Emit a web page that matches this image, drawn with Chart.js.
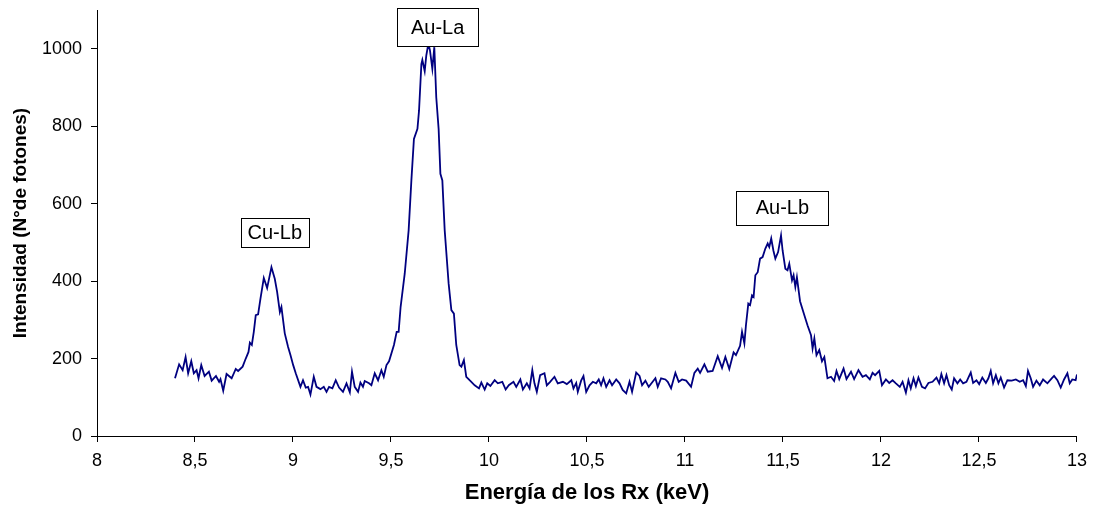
<!DOCTYPE html>
<html>
<head>
<meta charset="utf-8">
<script src="https://cdn.jsdelivr.net/npm/chart.js@4.4.1/dist/chart.umd.min.js"></script>
<style>
html,body{margin:0;padding:0;background:#fff;}
#wrap{width:1095px;height:510px;}
</style>
</head>
<body>
<div id="wrap"><canvas id="c" width="1095" height="510"></canvas></div>
<script>
// Energy (keV) of each read point
const energy = [
8.398,8.419,8.437,8.452,8.465,8.481,8.494,8.508,8.518,8.532,8.549,8.571,8.585,8.607,8.623,8.630,8.644,8.661,8.687,8.708,
8.720,8.743,8.759,8.773,8.780,8.790,8.800,8.810,8.822,8.834,8.851,8.868,8.890,8.907,8.919,8.933,8.941,8.958,8.975,8.987,
9.001,9.014,9.038,9.051,9.065,9.077,9.089,9.106,9.120,9.140,9.157,9.171,9.184,9.201,9.218,9.235,9.255,9.273,9.290,9.301,
9.315,9.332,9.344,9.357,9.366,9.388,9.400,9.417,9.434,9.451,9.463,9.477,9.490,
9.515,9.529,9.539,9.549,9.570,9.590,9.604,9.617,9.635,9.643,9.655,9.660,9.672,9.680,9.691,9.699,9.711,9.721,9.731,9.743,
9.752,9.762,9.774,9.794,9.808,9.821,9.833,9.850,9.859,9.872,9.884,9.901,
9.927,9.949,9.961,9.978,9.991,10.007,10.029,10.045,10.068,10.085,10.101,10.125,10.139,10.160,10.173,10.193,10.207,10.221,10.232,10.244,
10.261,10.283,10.295,10.312,10.334,10.351,10.377,10.397,10.420,10.431,10.445,10.453,10.470,10.482,10.496,10.513,10.530,10.547,10.560,10.572,
10.584,10.598,10.615,10.628,10.649,10.666,10.682,10.700,10.717,10.730,10.751,10.768,10.781,10.798,10.815,10.835,10.849,10.861,10.878,10.900,
10.912,10.929,10.951,10.968,10.985,11.006,11.031,11.048,11.065,11.077,11.099,11.116,11.141,11.167,
11.189,11.206,11.226,11.248,11.260,11.281,11.291,11.303,11.311,11.323,11.332,11.342,11.350,11.359,11.371,11.383,11.396,11.410,11.422,11.430,
11.440,11.451,11.461,11.475,11.490,11.498,11.512,11.523,11.532,11.546,11.554,11.563,11.571,11.587,11.609,11.625,11.643,11.651,11.660,11.671,
11.685,11.699,11.711,11.727,11.745,11.761,11.773,11.787,11.809,11.824,11.847,11.863,11.885,11.906,11.923,11.943,11.957,11.970,11.991,
12.005,12.025,12.042,12.059,12.076,12.096,12.110,12.127,12.140,12.152,12.166,12.178,12.191,12.209,12.225,12.242,12.263,12.283,12.297,12.308,
12.322,12.334,12.348,12.361,12.373,12.390,12.404,12.419,12.436,12.450,12.458,12.470,12.487,12.501,12.517,12.535,12.548,12.560,12.572,12.586,
12.599,12.611,12.628,12.645,12.667,12.688,12.708,12.725,12.739,12.750,12.764,12.776,12.793,12.810,12.827,12.849,12.871,12.883,12.900,12.917,
12.934,12.951,12.963,12.976,12.993,13.000
];
// Intensity (photon counts) at each energy
const counts = [
149,185,170,204,162,193,162,170,149,183,155,166,143,155,140,147,117,160,149,173,
168,179,200,217,241,235,269,312,314,355,408,382,436,406,372,320,333,265,230,209,
183,162,127,144,125,127,107,153,127,121,127,114,127,123,144,125,114,136,113,166,
127,114,138,127,142,136,131,162,144,170,153,183,193,
235,269,269,333,419,531,660,767,793,840,960,971,942,982,1014,995,948,1004,874,793,
677,660,531,394,325,316,235,183,179,196,153,144,
131,123,138,120,136,129,144,136,140,120,131,140,127,146,120,136,123,170,136,114,
157,162,131,140,153,136,140,134,144,123,137,114,143,155,114,131,140,136,146,131,
149,127,144,131,146,136,119,110,140,114,164,155,131,143,127,140,149,127,149,146,
140,123,163,140,146,143,127,163,174,163,185,166,168,206,
176,204,173,216,209,233,269,239,286,342,338,363,359,415,423,458,462,484,497,488,
510,479,458,475,518,479,432,428,445,402,415,385,410,348,312,286,260,226,252,209,
222,193,204,149,153,142,168,147,174,147,166,147,170,153,157,146,163,157,168,
131,146,137,144,136,127,140,112,144,123,149,129,151,127,123,137,140,151,136,160,
136,157,131,120,149,136,146,136,140,155,164,137,144,134,151,137,149,168,136,157,
136,151,125,144,143,146,140,144,129,168,149,127,143,131,146,136,149,155,144,125,
146,162,136,146,144,159
];
// Peak labels
const peakLabels = ['Cu-Lb', 'Au-La', 'Au-Lb'];
const peakLabelE = [8.907, 9.738, 11.497];
const peakLabelY = [526, 1055, 589];
const peakBoxW = [68, 81, 92];
const peakBoxH = [29, 38, 34];

const xTitle = 'Energía de los Rx (keV)';
const yTitle = 'Intensidad (N°de fotones)';

const FONT = '"Liberation Sans", Arial, Helvetica, sans-serif';

const points = energy.map((e, i) => ({x: e, y: counts[i]}));

const labelPlugin = {
  id: 'peakLabels',
  afterDraw(chart) {
    const ctx = chart.ctx;
    const xs = chart.scales.x, ys = chart.scales.y;
    ctx.save();
    peakLabels.forEach((t, i) => {
      const cx = xs.getPixelForValue(peakLabelE[i]);
      const cy = ys.getPixelForValue(peakLabelY[i]);
      const w = peakBoxW[i], h = peakBoxH[i];
      const x0 = Math.round(cx - w / 2) + 0.5, y0 = Math.round(cy - h / 2) + 0.5;
      ctx.fillStyle = '#ffffff';
      ctx.fillRect(x0, y0, w, h);
      ctx.strokeStyle = '#000000';
      ctx.lineWidth = 1;
      ctx.strokeRect(x0, y0, w, h);
      ctx.fillStyle = '#000000';
      ctx.font = '20px ' + FONT;
      ctx.textAlign = 'center';
      ctx.textBaseline = 'middle';
      ctx.fillText(t, cx, cy + 1);
    });
    ctx.restore();
  }
};

new Chart(document.getElementById('c'), {
  type: 'line',
  data: {
    datasets: [{
      data: points,
      borderColor: '#000080',
      borderWidth: 1.8,
      pointRadius: 0,
      tension: 0,
      fill: false
    }]
  },
  options: {
    responsive: false,
    devicePixelRatio: 1,
    animation: false,
    layout: {padding: {top: 0, right: 17, left: 0, bottom: 0}},
    plugins: {legend: {display: false}, tooltip: {enabled: false}},
    scales: {
      x: {
        type: 'linear',
        min: 8, max: 13,
        grid: {drawOnChartArea: false, drawTicks: true, tickLength: 6, color: '#000'},
        border: {display: true, color: '#000', width: 1},
        ticks: {
          stepSize: 0.5,
          padding: 8,
          color: '#000',
          font: {family: FONT, size: 18},
          maxRotation: 0,
          callback: v => String(v).replace('.', ',')
        },
        title: {
          display: true, text: xTitle, color: '#000',
          font: {family: FONT, size: 22, weight: 'bold'},
          padding: {top: 0, bottom: 4}
        },
        afterFit: s => { s.height = 74; }
      },
      y: {
        min: 0, max: 1100,
        grid: {drawOnChartArea: false, drawTicks: true, tickLength: 6, color: '#000'},
        border: {display: true, color: '#000', width: 1},
        ticks: {
          stepSize: 200,
          includeBounds: false,
          padding: 9,
          color: '#000',
          font: {family: FONT, size: 18},
          callback: v => String(v)
        },
        title: {
          display: true, text: yTitle, color: '#000',
          font: {family: FONT, size: 19, weight: 'bold'},
          padding: {top: 9, bottom: 0}
        },
        afterFit: s => { s.width = 97; s.paddingTop = 10; }
      }
    }
  },
  plugins: [labelPlugin]
});
</script>
</body>
</html>
